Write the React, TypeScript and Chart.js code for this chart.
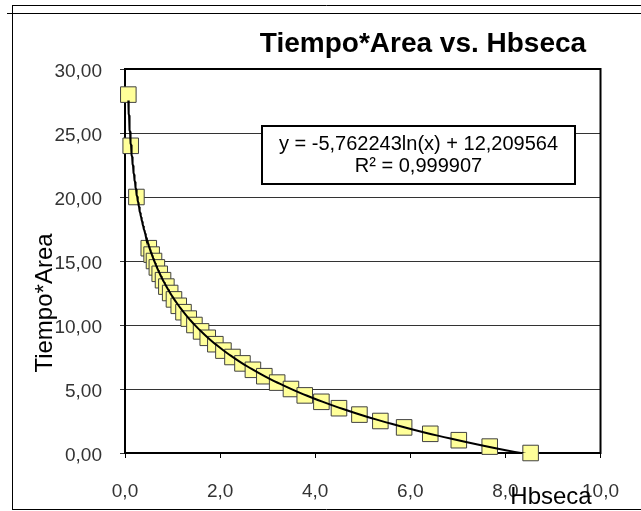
import React, { useEffect, useRef } from 'react';
import { Chart, registerables } from 'chart.js';

Chart.register(...registerables);

const chartTitle = 'Tiempo*Area vs. Hbseca';
const xAxisTitle = 'Hbseca';
const yAxisTitle = 'Tiempo*Area';
const equationLine = 'y = -5,762243ln(x) + 12,209564';
const r2Line = 'R² = 0,999907';

const hbseca = [
  0.07, 0.12, 0.24, 0.5, 0.56, 0.61, 0.67, 0.73, 0.8, 0.87, 0.95, 1.03, 1.13, 1.23,
  1.34, 1.46, 1.6, 1.74, 1.9, 2.07, 2.26, 2.47, 2.69, 2.93, 3.2, 3.49, 3.78, 4.13,
  4.5, 4.93, 5.37, 5.87, 6.42, 7.02, 7.67, 8.53,
];
const tiempoArea = [
  28, 24, 20, 16, 15.5, 15, 14.5, 14, 13.5, 13, 12.5, 12, 11.5, 11, 10.5, 10, 9.5, 9,
  8.5, 8, 7.5, 7, 6.5, 6, 5.5, 5, 4.5, 4, 3.5, 3, 2.5, 2, 1.5, 1, 0.5, 0,
];
const trendSlope = -5.762243;
const trendIntercept = 12.209564;

const xMin = 0;
const xMax = 10;
const xStep = 2;
const yMin = 0;
const yMax = 30;
const yStep = 5;

const FONT = "'Liberation Sans', Arial, sans-serif";

function trendPoints() {
  const lo = Math.min(...hbseca);
  const hi = Math.max(...hbseca);
  const n = 240;
  const pts: { x: number; y: number }[] = [];
  for (let i = 0; i <= n; i++) {
    const x = lo * Math.pow(hi / lo, i / n);
    pts.push({ x, y: trendSlope * Math.log(x) + trendIntercept });
  }
  return pts;
}

const decor = {
  id: 'decor',
  beforeDraw(chart: any) {
    const ctx = chart.ctx;
    ctx.save();
    ctx.fillStyle = '#fff';
    ctx.fillRect(0, 0, chart.width, chart.height);
    ctx.strokeStyle = '#000';
    ctx.lineWidth = 1;
    ctx.beginPath();
    ctx.moveTo(12, 5.5);
    ctx.lineTo(chart.width, 5.5);
    ctx.moveTo(7, 13.5);
    ctx.lineTo(chart.width, 13.5);
    ctx.moveTo(12.5, 5);
    ctx.lineTo(12.5, 510);
    ctx.moveTo(12, 509.5);
    ctx.lineTo(chart.width, 509.5);
    ctx.stroke();
    ctx.restore();
  },
  beforeDatasetsDraw(chart: any) {
    const { ctx, chartArea: a } = chart;
    ctx.save();
    ctx.strokeStyle = '#000';
    ctx.lineWidth = 2;
    ctx.strokeRect(a.left, a.top, a.right - a.left, a.bottom - a.top);
    ctx.restore();
  },
  afterDraw(chart: any) {
    const { ctx, chartArea: a } = chart;
    ctx.save();
    ctx.fillStyle = '#000';
    ctx.font = `bold 28px ${FONT}`;
    ctx.textAlign = 'center';
    ctx.textBaseline = 'middle';
    ctx.fillText(chartTitle, 423, 44);
    ctx.save();
    ctx.translate(45, 303);
    ctx.rotate(-Math.PI / 2);
    ctx.font = `24px ${FONT}`;
    ctx.fillText(yAxisTitle, 0, 0);
    ctx.restore();
    ctx.font = `24px ${FONT}`;
    ctx.fillText(xAxisTitle, 551, 497);
    const bx = a.left + 137;
    const by = a.top + 57;
    const bw = 313;
    const bh = 58;
    ctx.fillStyle = '#fff';
    ctx.fillRect(bx, by, bw, bh);
    ctx.strokeStyle = '#000';
    ctx.lineWidth = 2;
    ctx.strokeRect(bx, by, bw, bh);
    ctx.fillStyle = '#000';
    ctx.font = `20px ${FONT}`;
    ctx.fillText(equationLine, bx + bw / 2, by + 18);
    ctx.fillText(r2Line, bx + bw / 2, by + 40);
    ctx.restore();
  },
};

export default function App() {
  const ref = useRef<HTMLCanvasElement | null>(null);
  useEffect(() => {
    if (!ref.current) return;
    const chart = new Chart(ref.current, {
      type: 'scatter',
      data: {
        datasets: [
          {
            type: 'line',
            label: 'Tendencia',
            data: trendPoints(),
            borderColor: '#000',
            borderWidth: 2,
            pointRadius: 0,
            fill: false,
            tension: 0,
          } as any,
          {
            label: yAxisTitle,
            data: hbseca.map((x, i) => ({ x, y: tiempoArea[i] })),
            pointStyle: 'rect',
            pointRadius: 11,
            backgroundColor: '#ffff99',
            borderColor: '#404040',
            borderWidth: 1,
            clip: false,
          } as any,
        ],
      },
      options: {
        responsive: false,
        animation: false,
        devicePixelRatio: 1,
        layout: { padding: { top: 69, right: 34, left: 0, bottom: 0 } },
        plugins: { legend: { display: false }, tooltip: { enabled: false }, title: { display: false } },
        scales: {
          x: {
            type: 'linear',
            min: xMin,
            max: xMax,
            afterFit: (s: any) => {
              s.height = 58;
            },
            ticks: {
              stepSize: xStep,
              padding: 22,
              color: '#333',
              font: { family: FONT, size: 19 },
              callback: (v: any) => Number(v).toFixed(1).replace('.', ','),
            },
            grid: { drawOnChartArea: false, drawTicks: true, tickLength: 5, color: '#000', lineWidth: 1 },
            border: { display: false },
          },
          y: {
            type: 'linear',
            min: yMin,
            max: yMax,
            afterFit: (s: any) => {
              s.width = 125;
            },
            ticks: {
              stepSize: yStep,
              padding: 18,
              labelOffset: 3,
              color: '#333',
              font: { family: FONT, size: 19 },
              callback: (v: any) => Number(v).toFixed(2).replace('.', ','),
            },
            grid: { color: '#333', lineWidth: 1, tickLength: 5, drawTicks: true },
            border: { display: false },
          },
        },
      } as any,
      plugins: [decor],
    });
    return () => chart.destroy();
  }, []);
  return (
    <div style={{ position: 'absolute', left: 0, top: 0, width: 641, height: 511 }}>
      <canvas ref={ref} width={641} height={511} />
    </div>
  );
}
